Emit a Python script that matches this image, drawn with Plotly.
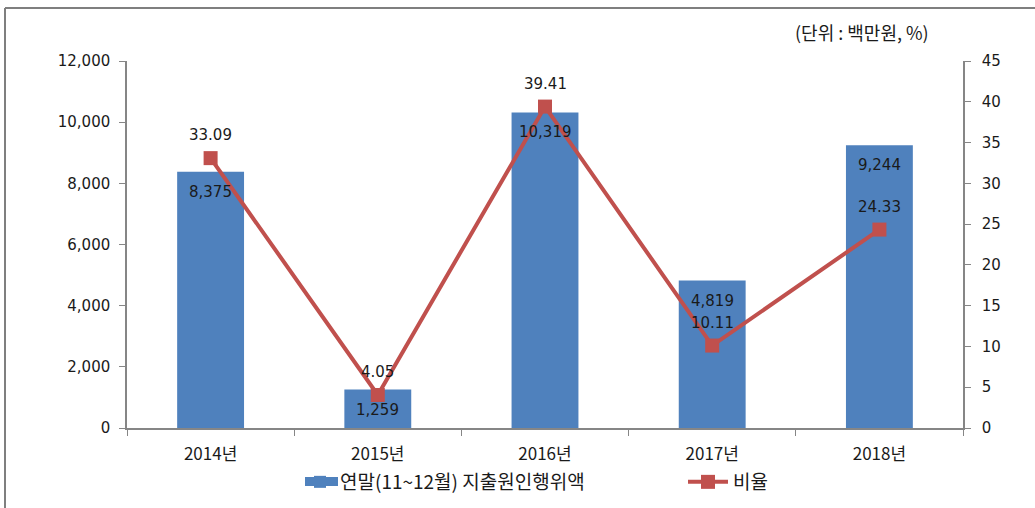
import plotly.graph_objects as go

years = ["2014년", "2015년", "2016년", "2017년", "2018년"]
amounts = [8375, 1259, 10319, 4819, 9244]
ratios = [33.09, 4.05, 39.41, 10.11, 24.33]
bar_name = "연말(11~12월) 지출원인행위액"
line_name = "비율"
unit_text = "(단위 : 백만원, %)"

W, H = 1035, 508
L, R, T, B = 127, 963, 61, 428
pw, ph = R - L, B - T

def px(x):
    return (x - L) / pw

def py(y):
    return (B - y) / ph

tick_font = dict(family="DejaVu Sans", size=15, color="#1a1a1a")
kfont = "Noto Sans CJK KR, DejaVu Sans"
lab_font = dict(family="DejaVu Sans", size=15, color="#1a1a1a")
bar_color = "#4F81BD"

fig = go.Figure()
fig.add_trace(go.Bar(
    x=years, y=amounts, name=bar_name, legend="legend",
    marker=dict(color=bar_color, line=dict(width=0)),
))
fig.add_trace(go.Scatter(
    x=years, y=ratios, name=line_name, yaxis="y2", legend="legend2",
    mode="lines+markers",
    line=dict(color="#C0504D", width=4),
    marker=dict(symbol="square", size=14, color="#C0504D"),
))

annotations = []
for xv, yv in zip(years, amounts):
    annotations.append(dict(x=xv, y=yv, xref="x", yref="y", text=f"{yv:,}",
                            showarrow=False, yshift=-20, yanchor="middle",
                            font=lab_font))
for xv, yv in zip(years, ratios):
    annotations.append(dict(x=xv, y=yv, xref="x", yref="y2", text=f"{yv:.2f}",
                            showarrow=False, yshift=23, yanchor="middle",
                            font=lab_font))
annotations.append(dict(text=unit_text, xref="paper", yref="paper", x=px(931), y=py(32),
                        xanchor="right", yanchor="middle", showarrow=False,
                        font=dict(family=kfont, size=18, color="#1a1a1a")))

fig.update_layout(
    width=W, height=H,
    margin=dict(l=L, r=W - R, t=T, b=H - B, autoexpand=False),
    paper_bgcolor="white", plot_bgcolor="white",
    bargap=0.6,
    showlegend=True,
    legend=dict(orientation="h", x=px(300), y=py(482), xanchor="left", yanchor="middle",
                font=dict(family=kfont, size=19, color="#1a1a1a"), itemwidth=30,
                bgcolor="rgba(0,0,0,0)"),
    legend2=dict(orientation="h", x=px(683), y=py(482), xanchor="left", yanchor="middle",
                 font=dict(family=kfont, size=19, color="#1a1a1a"), itemwidth=40,
                 bgcolor="rgba(0,0,0,0)"),
    xaxis=dict(showline=True, linecolor="#868686", linewidth=1.5,
               ticks="outside", tickson="boundaries", ticklen=6, tickcolor="#868686",
               ticklabelstandoff=10,
               tickfont=dict(family=kfont, size=17, color="#1a1a1a"), showgrid=False),
    yaxis=dict(range=[0, 12000], dtick=2000, tickformat=",", showline=True,
               linecolor="#868686", linewidth=1.5, ticks="outside", ticklen=6,
               ticklabelstandoff=6,
               tickcolor="#868686", tickfont=tick_font, showgrid=False, zeroline=False),
    yaxis2=dict(range=[0, 45], dtick=5, overlaying="y", side="right", showline=True,
                linecolor="#868686", linewidth=1.5, ticks="outside", ticklen=6,
                ticklabelstandoff=8,
                tickcolor="#868686", tickfont=tick_font, showgrid=False, zeroline=False),
    annotations=annotations,
    shapes=[
        dict(type="line", xref="paper", yref="paper", x0=px(5), x1=px(1035), y0=py(8), y1=py(8),
             line=dict(color="#7f7f7f", width=2)),
        dict(type="line", xref="paper", yref="paper", x0=px(5), x1=px(5), y0=py(8), y1=py(508),
             line=dict(color="#7f7f7f", width=2)),
        dict(type="rect", xref="paper", yref="paper", x0=px(305), x1=px(338),
             y0=py(486), y1=py(477), fillcolor=bar_color, line=dict(width=0), layer="above"),
    ],
)

fig.write_html("out.html", config={"displayModeBar": False},
               post_script="document.body.style.margin='0px';")
